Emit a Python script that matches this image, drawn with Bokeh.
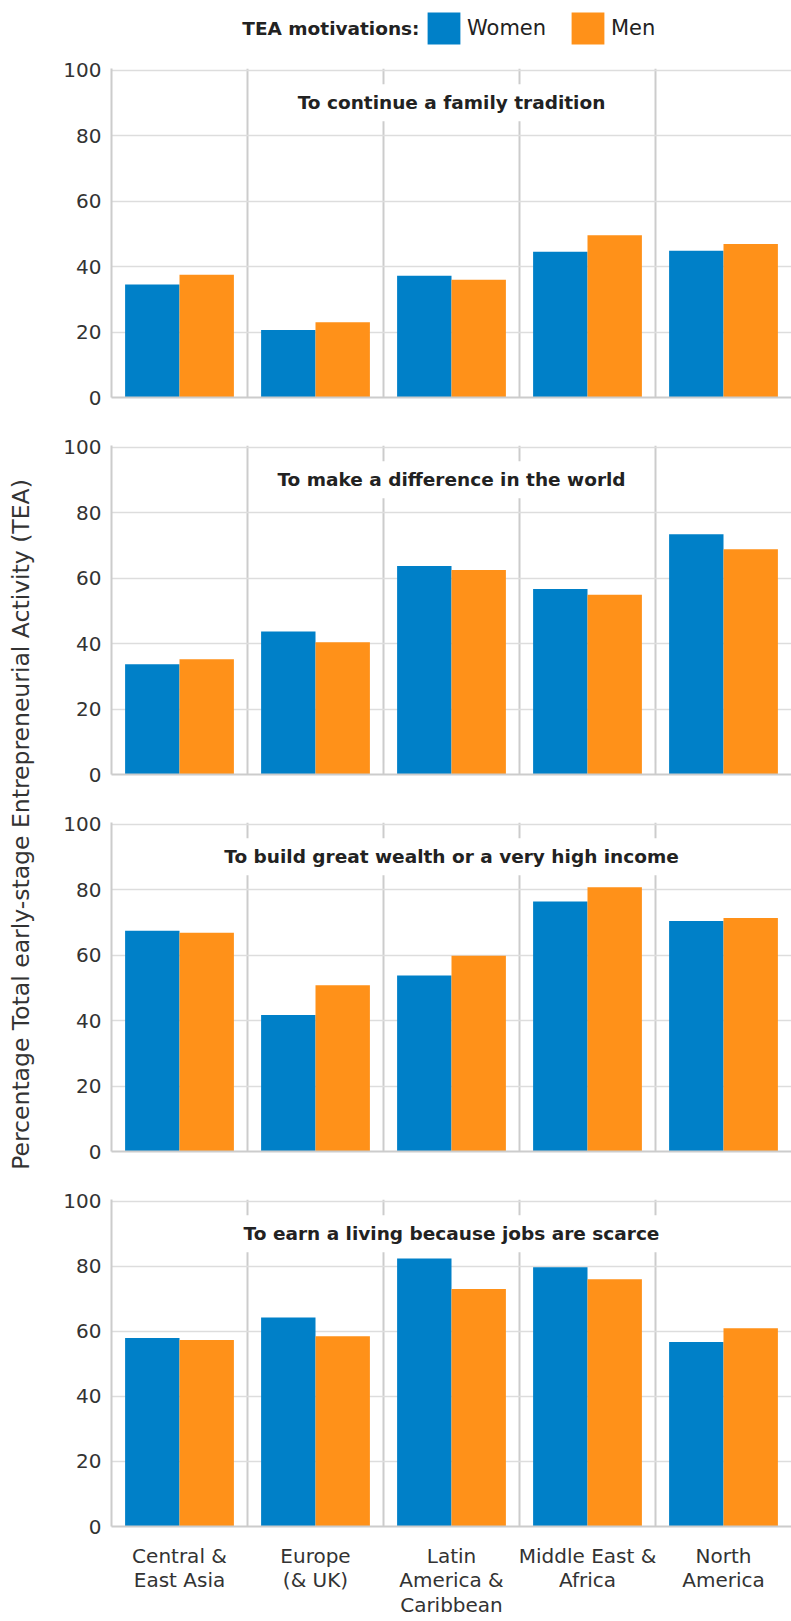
import numpy as np
from bokeh.plotting import figure
from bokeh.models import ColumnDataSource, Range1d, FixedTicker, Label, Legend, LegendItem
from bokeh.layouts import column, row
from bokeh.transform import dodge
from bokeh.embed import file_html
from bokeh.resources import INLINE

# ---------------- data ----------------
regions = ["Central &\nEast Asia", "Europe\n(& UK)", "Latin\nAmerica &\nCaribbean",
           "Middle East &\nAfrica", "North\nAmerica"]
series = ["Women", "Men"]
colors = ["#0080C8", "#FF9119"]
legend_title = "TEA motivations:"
y_label = "Percentage Total early-stage Entrepreneurial Activity (TEA)"
y_ticks = [0, 20, 40, 60, 80, 100]

panel_titles = [
    "To continue a family tradition",
    "To make a difference in the world",
    "To build great wealth or a very high income",
    "To earn a living because jobs are scarce",
]
family_women = [34.5, 20.6, 37.2, 44.5, 44.8]
family_men = [37.5, 23.0, 36.0, 49.6, 46.9]
difference_women = [33.7, 43.7, 63.7, 56.7, 73.4]
difference_men = [35.2, 40.4, 62.5, 54.9, 68.8]
wealth_women = [67.4, 41.7, 53.8, 76.4, 70.4]
wealth_men = [66.8, 50.8, 59.8, 80.7, 71.3]
living_women = [57.9, 64.2, 82.4, 79.7, 56.7]
living_men = [57.3, 58.5, 73.0, 76.0, 60.9]

panel_women = [family_women, difference_women, wealth_women, living_women]
panel_men = [family_men, difference_men, wealth_men, living_men]

FONT = "DejaVu Sans"
TXT = "#333333"
GRID_V = "#cccccc"
GRID_H = "#dddddd"

PANEL_W = 753
SIDE_W = 38
TOTAL_W = SIDE_W + PANEL_W
HEADER_H = 56


def make_panel(title, w, m, last):
    h = 433 if last else 377
    p = figure(width=PANEL_W, height=h, x_range=Range1d(0, 5), y_range=Range1d(0, 100.5),
               output_backend="svg", toolbar_location=None,
               min_border_left=73, min_border_right=0, min_border_top=12,
               min_border_bottom=92 if last else 36)
    p.outline_line_color = None
    p.background_fill_color = "white"
    src = ColumnDataSource(dict(idx=np.arange(len(regions)), women=w, men=m))
    p.vbar(x=dodge("idx", 0.3), top="women", width=0.4, source=src,
           fill_color=colors[0], line_color=None)
    p.vbar(x=dodge("idx", 0.7), top="men", width=0.4, source=src,
           fill_color=colors[1], line_color=None)

    p.xgrid.ticker = FixedTicker(ticks=list(range(1, len(regions))))
    p.xgrid.grid_line_color = GRID_V
    p.xgrid.grid_line_width = 2
    p.ygrid.ticker = FixedTicker(ticks=y_ticks[1:])
    p.ygrid.grid_line_color = GRID_H
    p.ygrid.grid_line_width = 1.5

    ya = p.yaxis[0]
    ya.ticker = FixedTicker(ticks=y_ticks)
    ya.major_tick_line_color = None
    ya.minor_tick_line_color = None
    ya.major_tick_out = 0
    ya.major_tick_in = 0
    ya.major_label_standoff = 10
    ya.axis_line_color = GRID_V
    ya.axis_line_width = 2
    ya.major_label_text_font = FONT
    ya.major_label_text_font_size = "20px"
    ya.major_label_text_color = TXT

    xa = p.xaxis[0]
    xa.major_tick_line_color = None
    xa.minor_tick_line_color = None
    xa.major_tick_out = 0
    xa.major_tick_in = 0
    xa.axis_line_color = GRID_V
    xa.axis_line_width = 2
    if last:
        centers = [i + 0.5 for i in range(len(regions))]
        xa.ticker = FixedTicker(ticks=centers)
        xa.major_label_overrides = {c: r for c, r in zip(centers, regions)}
        xa.major_label_standoff = 17
        xa.major_label_text_font = FONT
        xa.major_label_text_font_size = "20px"
        xa.major_label_text_line_height = 1.04
        xa.major_label_text_color = TXT
    else:
        xa.ticker = FixedTicker(ticks=[])
        xa.major_label_text_font_size = "0px"

    p.add_layout(Label(x=2.5, y=90, text=title, text_align="center", text_baseline="middle",
                       text_font=FONT, text_font_size="18.5px", text_font_style="bold",
                       text_color="#222222", background_fill_color="white", padding=8))
    return p


panels = [make_panel(t, w, m, i == len(panel_titles) - 1)
          for i, (t, w, m) in enumerate(zip(panel_titles, panel_women, panel_men))]
stack_h = sum(p.height for p in panels)

# header with legend
header = figure(width=TOTAL_W, height=HEADER_H, x_range=Range1d(0, TOTAL_W),
                y_range=Range1d(0, HEADER_H), output_backend="svg", toolbar_location=None,
                x_axis_location=None, y_axis_location=None, min_border=0)
header.outline_line_color = None
header.grid.visible = False
# placeholder renderers (out of view) that only supply the legend swatches
rends = [header.vbar(x=[-50], top=[0], width=1, fill_color=c, line_color=None) for c in colors]
legend = Legend(items=[LegendItem(label=s, renderers=[r]) for s, r in zip(series, rends)],
                orientation="horizontal", location=(423, 8), padding=0, margin=0,
                spacing=17, glyph_width=41, glyph_height=40, label_standoff=3,
                label_width=83, label_height=40, border_line_color=None,
                background_fill_alpha=0, label_text_font=FONT, label_text_font_size="21px",
                label_text_color="#222222")
header.add_layout(legend)
header.add_layout(Label(x=419, y=28, text=legend_title, text_align="right",
                        text_baseline="middle", text_font=FONT, text_font_size="18.5px",
                        text_font_style="bold", text_color="#222222"))

# side y-axis label
side = figure(width=SIDE_W, height=stack_h, x_range=Range1d(0, SIDE_W),
              y_range=Range1d(0, stack_h), output_backend="svg", toolbar_location=None,
              x_axis_location=None, y_axis_location=None, min_border=0)
side.outline_line_color = None
side.grid.visible = False
side.add_layout(Label(x=20, y=stack_h - 768, text=y_label, angle=np.pi / 2,
                      text_align="center", text_baseline="middle", text_font=FONT,
                      text_font_size="23.5px", text_color=TXT))

layout = column(header, row(side, column(*panels)))

open("out.html", "w").write(file_html(layout, INLINE))
